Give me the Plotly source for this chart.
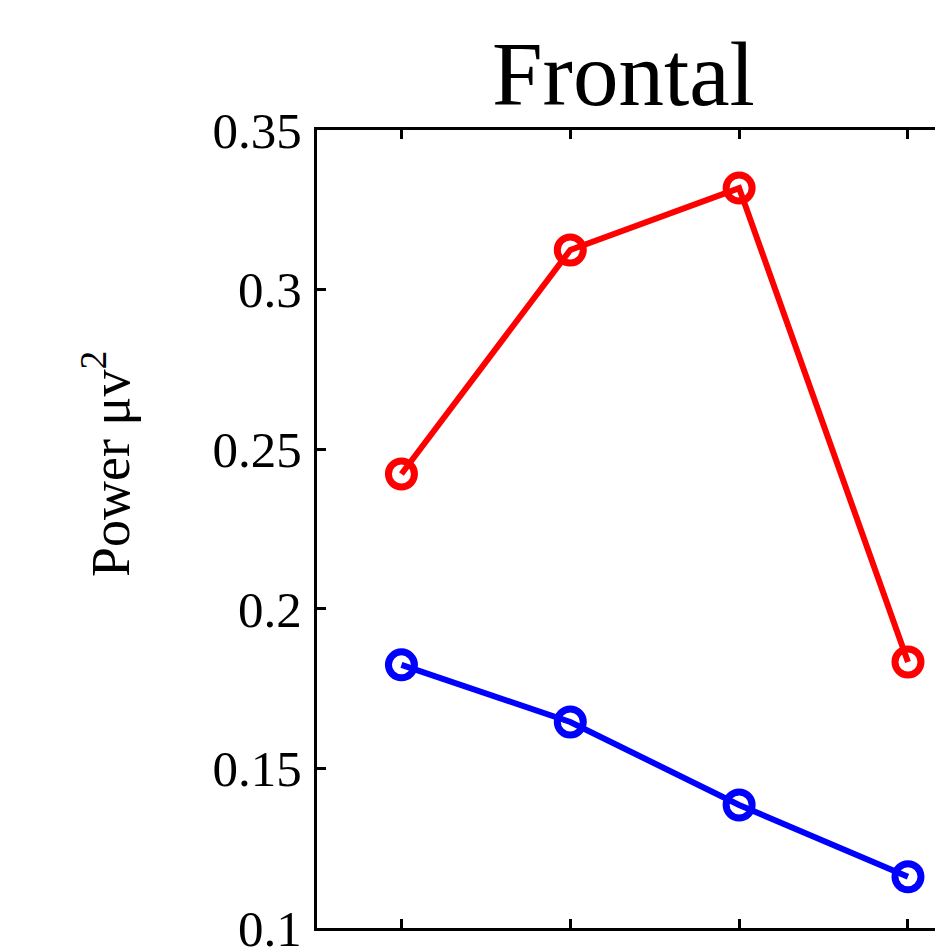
import plotly.graph_objects as go

# Condition index along the x axis
conditions = [1, 2, 3, 4]

# Mean frontal power for the two groups
red_power = [0.2422, 0.3124, 0.3318, 0.1833]
blue_power = [0.1824, 0.1645, 0.1385, 0.1160]

# Y-axis ticks
y_tickvals = [0.1, 0.15, 0.2, 0.25, 0.3, 0.35]
y_ticktext = ["0.1", "0.15", "0.2", "0.25", "0.3", "0.35"]

W, H = 935, 947
ML, MR, MT, MB = 317, 0, 130, 19
serif = "Liberation Serif, Times New Roman, serif"

fig = go.Figure()

for vals, col in [(red_power, "#ff0000"), (blue_power, "#0000ff")]:
    fig.add_trace(go.Scatter(
        x=conditions, y=vals, mode="lines+markers",
        line=dict(color=col, width=6),
        marker=dict(symbol="circle-open", size=26, color=col,
                    line=dict(color=col, width=7)),
        showlegend=False, cliponaxis=False,
    ))

plot_w = W - ML - MR
plot_h = H - MT - MB


def px_x(px):
    return (px - ML) / plot_w


def px_y(py):
    return (H - MB - py) / plot_h


fig.add_annotation(
    text="Frontal", xref="paper", yref="paper",
    x=px_x(623), y=px_y(75), xanchor="center", yanchor="middle",
    showarrow=False, font=dict(family=serif, size=91, color="black"),
)
fig.add_annotation(
    text="Power μv<sup>2</sup>", xref="paper", yref="paper",
    x=px_x(106), y=px_y(464), xanchor="center", yanchor="middle",
    textangle=-90, showarrow=False,
    font=dict(family=serif, size=54, color="black"),
)

fig.update_xaxes(
    range=[0.5, 4.16], showgrid=False, zeroline=False,
    showline=True, linecolor="black", linewidth=3, mirror="ticks",
    ticks="inside", ticklen=9, tickwidth=2.5, tickcolor="black",
    tickvals=conditions, showticklabels=False, automargin=False,
)
fig.update_yaxes(
    range=[0.09995, 0.35], showgrid=False, zeroline=False,
    showline=True, linecolor="black", linewidth=3,
    ticks="inside", ticklen=9, tickwidth=2.5, tickcolor="black",
    tickvals=y_tickvals, ticktext=y_ticktext,
    tickfont=dict(family=serif, size=51, color="black"),
    ticklabelstandoff=2, ticklabeloverflow="allow", automargin=False,
)

fig.update_layout(
    width=W, height=H,
    margin=dict(l=ML, r=MR, t=MT, b=MB, autoexpand=False),
    paper_bgcolor="white", plot_bgcolor="white",
)

fig.write_html("out.html")
